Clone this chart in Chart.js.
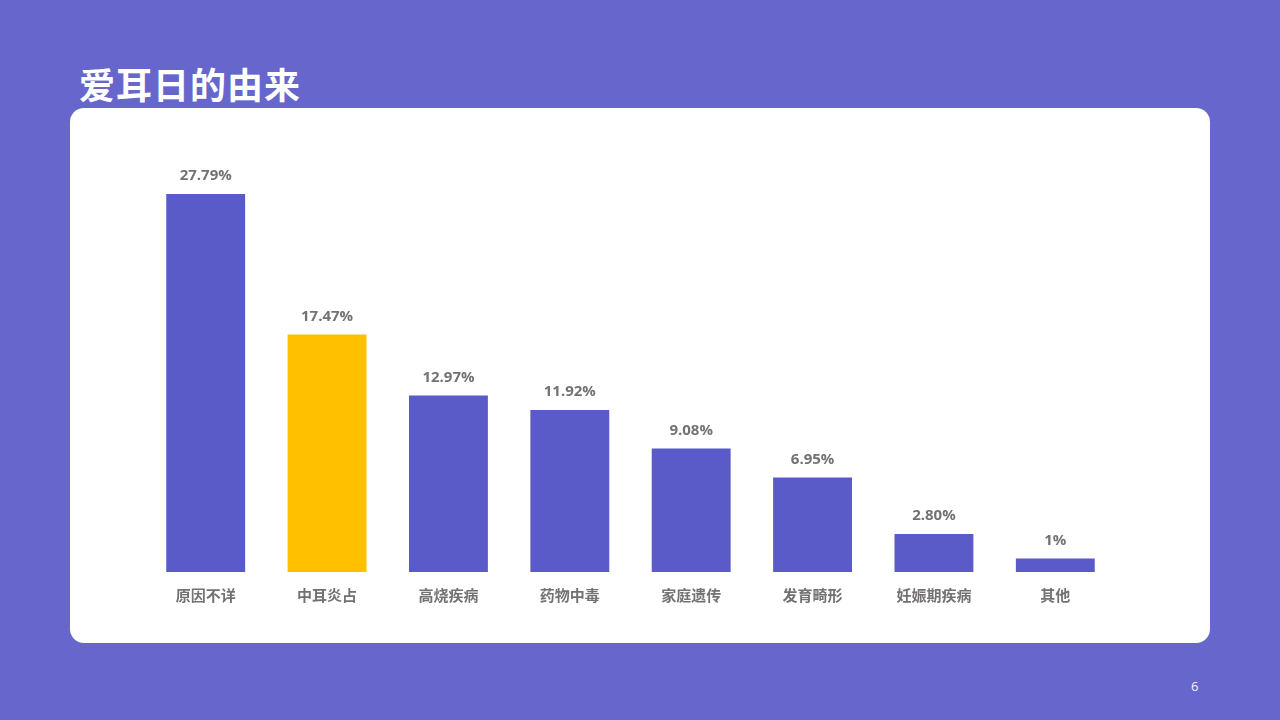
<!DOCTYPE html>
<html>
<head>
<meta charset="utf-8">
<script src="https://cdn.jsdelivr.net/npm/chart.js@4/dist/chart.umd.min.js"></script>
<style>
  html, body { margin: 0; padding: 0; }
  body {
    width: 1280px; height: 720px; overflow: hidden; position: relative;
    background: #6666cc;
    font-family: "Noto Sans CJK SC", "Open Sans", sans-serif;
  }
  #title {
    position: absolute; left: 79px; top: 58px; margin: 0; line-height: 50px;
    color: #fff; font-size: 36px; font-weight: 700; letter-spacing: 1px;
  }
  #card {
    position: absolute; left: 70px; top: 108px; width: 1140px; height: 535px;
    background: #fff; border-radius: 14px;
  }
  #page {
    position: absolute; left: 1191px; top: 677px;
    color: #f4f4ff; font-size: 13px; font-family: "Open Sans", sans-serif;
  }
  #wrap { position: absolute; left: 0; top: 0; width: 1280px; height: 720px; }
</style>
</head>
<body>
<h1 id="title">爱耳日的由来</h1>
<div id="card"></div>
<div id="page">6</div>
<div id="wrap"><canvas id="chart" width="1280" height="720"></canvas></div>
<script>
const categories = ['原因不详', '中耳炎占', '高烧疾病', '药物中毒', '家庭遗传', '发育畸形', '妊娠期疾病', '其他'];
const values = [27.79, 17.47, 12.97, 11.92, 9.08, 6.95, 2.80, 1];
const valueLabels = ['27.79%', '17.47%', '12.97%', '11.92%', '9.08%', '6.95%', '2.80%', '1%'];
const highlightIndex = 1;

const BLUE = '#5a5ac9';
const GOLD = '#ffc000';
const GREY = '#767171';

const barLabels = {
  id: 'barLabels',
  afterDatasetsDraw(chart) {
    const { ctx } = chart;
    const meta = chart.getDatasetMeta(0);
    ctx.save();
    ctx.fillStyle = GREY;
    ctx.font = 'bold 15px "Open Sans", "Noto Sans CJK SC", sans-serif';
    ctx.textAlign = 'center';
    ctx.textBaseline = 'middle';
    meta.data.forEach((bar, i) => {
      ctx.fillText(valueLabels[i], bar.x, bar.y - 18);
    });
    ctx.restore();
  },
};

new Chart(document.getElementById('chart'), {
  type: 'bar',
  data: {
    labels: categories,
    datasets: [
      {
        data: values,
        backgroundColor: values.map((_, i) => (i === highlightIndex ? GOLD : BLUE)),
        borderWidth: 0,
        categoryPercentage: 0.65,
        barPercentage: 1,
      },
    ],
  },
  options: {
    responsive: false,
    animation: false,
    layout: { padding: { left: 145, right: 164, top: 164, bottom: 102 } },
    plugins: { legend: { display: false }, tooltip: { enabled: false } },
    scales: {
      x: {
        grid: { display: false, drawTicks: false },
        border: { display: false },
        ticks: {
          color: GREY,
          padding: 14,
          font: { size: 15, weight: 'bold', family: '"Noto Sans CJK SC", sans-serif' },
        },
      },
      y: { display: false, min: 0, max: 30 },
    },
  },
  plugins: [barLabels],
});
</script>
</body>
</html>
